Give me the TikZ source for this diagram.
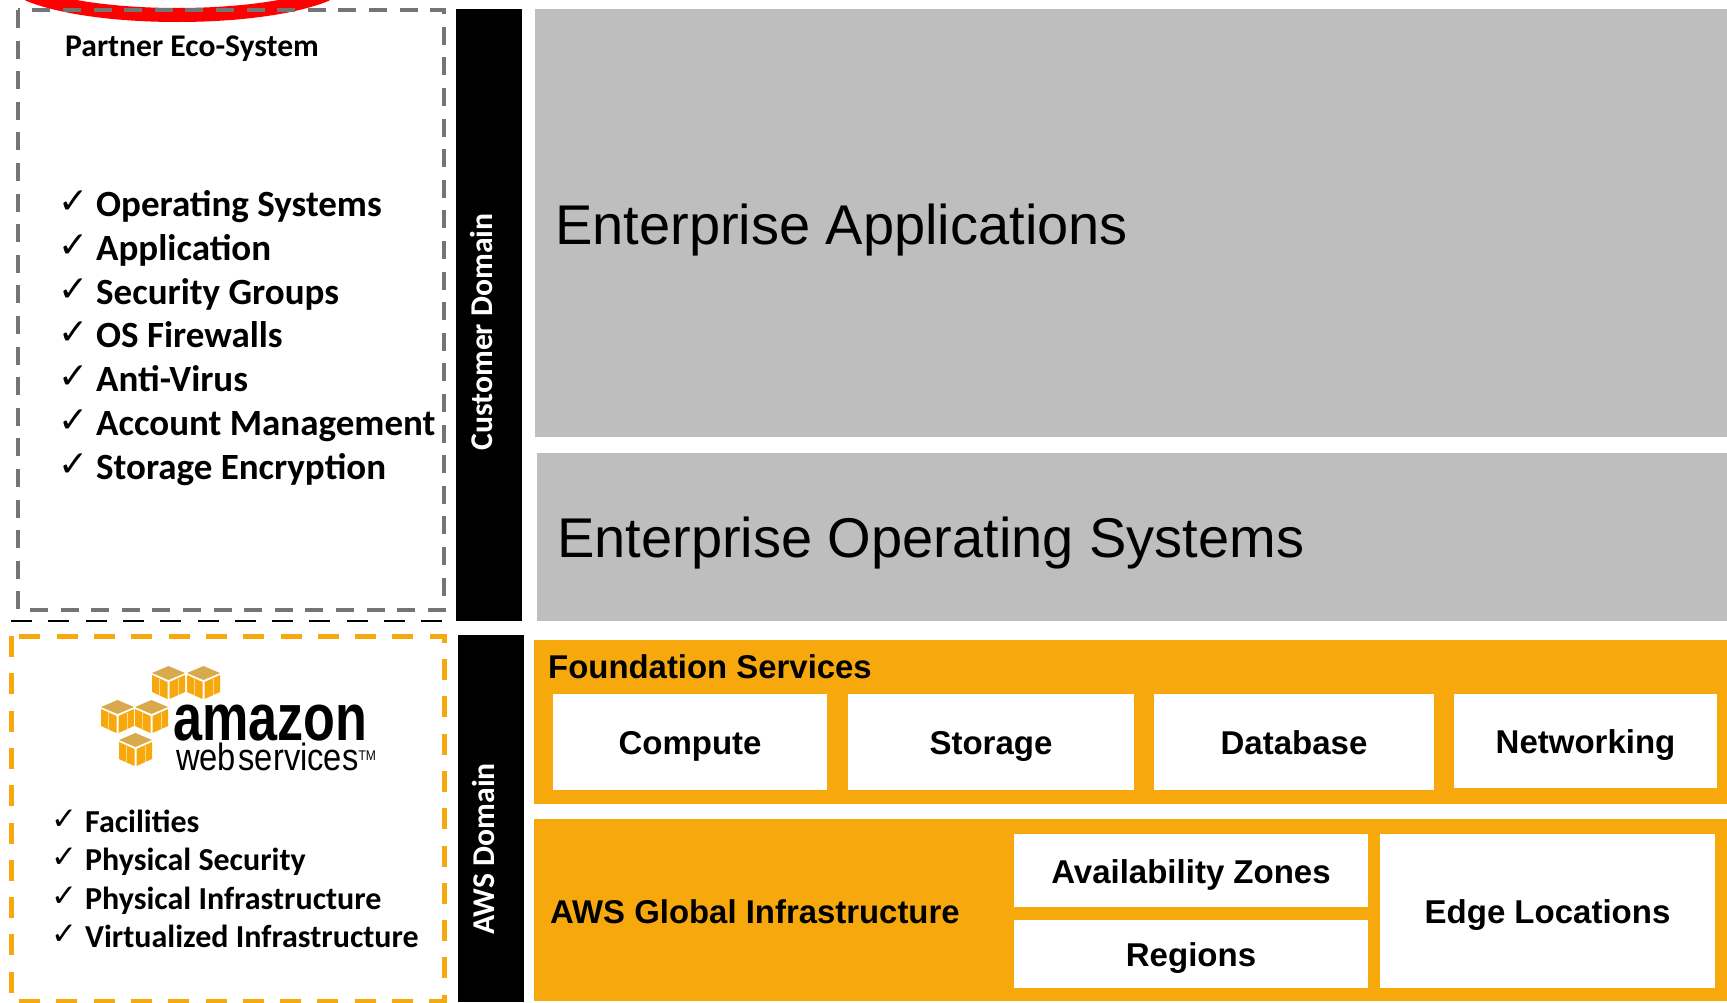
\documentclass[tikz,border=0pt]{standalone}
\usepackage{fontspec}
\setmainfont{Carlito}
\newfontfamily\arialfont{Liberation Sans}
\newfontfamily\checkfont{DejaVu Sans}
\usetikzlibrary{positioning}
\definecolor{awsorange}{HTML}{F7A80D}
\definecolor{panelgray}{HTML}{BEBEBE}
\definecolor{dashgray}{HTML}{757575}
\definecolor{cubetop}{HTML}{D9A94E}
\newcommand{\fsz}[1]{\fontsize{#1}{#1}\selectfont}
\newcommand{\chk}[1]{\llap{\raisebox{3pt}{\checkfont\fontsize{#1}{#1}\selectfont ✓}\hspace{8pt}}}
\tikzset{
  panel/.style    = {anchor=north west, inner sep=0pt, outer sep=0pt},
  graypanel/.style= {panel, fill=panelgray},
  orangepanel/.style = {panel, fill=awsorange},
  whitebox/.style = {panel, fill=white, align=center,
                     text height=29pt, text depth=4pt,
                     font=\arialfont\bfseries\fsz{33}},
  domainbar/.style= {panel, fill=black},
  domainlabel/.style = {rotate=90, text=white, inner sep=0pt,
                        font=\bfseries\fsz{31.7}},
  bigtitle/.style = {anchor=base west, inner sep=0pt,
                     font=\arialfont\fsz{56}},
  paneltitle/.style = {anchor=base west, inner sep=0pt,
                       font=\arialfont\bfseries\fsz{32.9}},
  partneritem/.style = {anchor=base west, inner sep=0pt,
                        font=\bfseries\fsz{37}},
  awsitem/.style  = {anchor=base west, inner sep=0pt,
                     font=\bfseries\fsz{32}},
  awscube/.pic = {
    \fill[cubetop] (0,7) -- (16.5,0) -- (33,7) -- (16.5,14) -- cycle;
    \fill[awsorange] (0,9) -- (15.5,16) -- (15.5,33) -- (0,26) -- cycle;
    \fill[awsorange] (33,9) -- (17.5,16) -- (17.5,33) -- (33,26) -- cycle;
    \draw[white!55!awsorange, line width=1pt] (7,13) -- (7,29) (26,13) -- (26,29);
  },
}

\begin{document}
\begin{tikzpicture}[x=1pt, y=-1pt]
    \useasboundingbox (0,0) rectangle (1727,1002);

    % ── Left column: partner box ──────────────────────────────────
    \draw[red, line width=14pt] (28,-6) .. controls (95,22) and (260,22) .. (327,-6);
    \draw[dashgray, line width=4pt, dash pattern=on 18pt off 12.6pt]
      (18,10) rectangle (444,610);
    \draw[black, line width=2pt, dash pattern=on 21pt off 16.3pt]
      (11,621) -- (444,621);
    \node[anchor=base west, inner sep=0pt, font=\bfseries\fsz{31.6}] (partnertitle)
      at (65,56) {Partner Eco-System};

    \node[partneritem] (item1) at (96,216) {\chk{36}Operating Systems};
    \node[partneritem] (item2) at (96,260) {\chk{36}Application};
    \node[partneritem] (item3) at (96,304) {\chk{36}Security Groups};
    \node[partneritem] (item4) at (96,347) {\chk{36}OS Firewalls};
    \node[partneritem] (item5) at (96,391) {\chk{36}Anti-Virus};
    \node[partneritem] (item6) at (96,435) {\chk{36}Account Management};
    \node[partneritem] (item7) at (96,479) {\chk{36}Storage Encryption};

    % ── Left column: AWS box ──────────────────────────────────────
    \draw[awsorange, line width=5pt, dash pattern=on 21pt off 16.3pt]
      (11,636) rectangle (444,1001);

    \pic at (152,666) {awscube};
    \pic at (187,666) {awscube};
    \pic at (101,700) {awscube};
    \pic at (135,700) {awscube};
    \pic at (119,733) {awscube};
    \node[anchor=base west, inner sep=0pt, xscale=0.79, transform shape,
          font=\arialfont\bfseries\fsz{66}] (amazon) at (173,740) {amazon};
    \node[anchor=base west, inner sep=0pt, xscale=0.86, transform shape,
          font=\arialfont\fsz{38}] (webservices) at (176,770) {web\hspace{3pt}services\textsuperscript{\fsz{14}TM}};

    \node[awsitem] (fac) at (85,832) {\chk{31}Facilities};
    \node[awsitem] (sec) at (85,870) {\chk{31}Physical Security};
    \node[awsitem] (inf) at (85,909) {\chk{31}Physical Infrastructure};
    \node[awsitem] (vir) at (85,947) {\chk{31}Virtualized Infrastructure};

    % ── Middle: domain bars ───────────────────────────────────────
    \node[domainbar, minimum width=66pt, minimum height=612pt] (customerbar) at (456,9) {};
    \node[domainbar, minimum width=66pt, minimum height=367pt] (awsbar) at (458,635) {};
    \node[domainlabel] (customerlabel) at (481,332) {Customer Domain};
    \node[domainlabel] (awslabel) at (483,849) {AWS Domain};

    % ── Right: customer panels ────────────────────────────────────
    \node[graypanel, minimum width=1192pt, minimum height=428pt] (apps) at (535,9) {};
    \node[graypanel, minimum width=1190pt, minimum height=168pt] (entos) at (537,453) {};
    \node[bigtitle] (appstitle) at (555,244) {Enterprise Applications};
    \node[bigtitle] (entostitle) at (557,557) {Enterprise Operating Systems};

    % ── Right: foundation services ────────────────────────────────
    \node[orangepanel, minimum width=1193pt, minimum height=164pt] (foundation) at (534,640) {};
    \node[paneltitle] (foundationtitle) at (548,678) {Foundation Services};
    \node[whitebox, minimum width=274pt, minimum height=96pt] (compute) at (553,694) {Compute};
    \node[whitebox, minimum width=286pt, minimum height=96pt] (storage) at (848,694) {Storage};
    \node[whitebox, minimum width=280pt, minimum height=96pt] (database) at (1154,694) {Database};
    \node[whitebox, minimum width=263pt, minimum height=94pt] (networking) at (1454,694) {Networking};

    % ── Right: global infrastructure ──────────────────────────────
    \node[orangepanel, minimum width=1193pt, minimum height=182pt] (global) at (534,819) {};
    \node[paneltitle] (globaltitle) at (550,923) {AWS Global Infrastructure};
    \node[whitebox, minimum width=354pt, minimum height=73pt] (zones) at (1014,834) {Availability Zones};
    \node[whitebox, minimum width=354pt, minimum height=68pt] (regions) at (1014,920) {Regions};
    \node[whitebox, minimum width=335pt, minimum height=154pt] (edge) at (1380,834) {Edge Locations};

\end{tikzpicture}
\end{document}
